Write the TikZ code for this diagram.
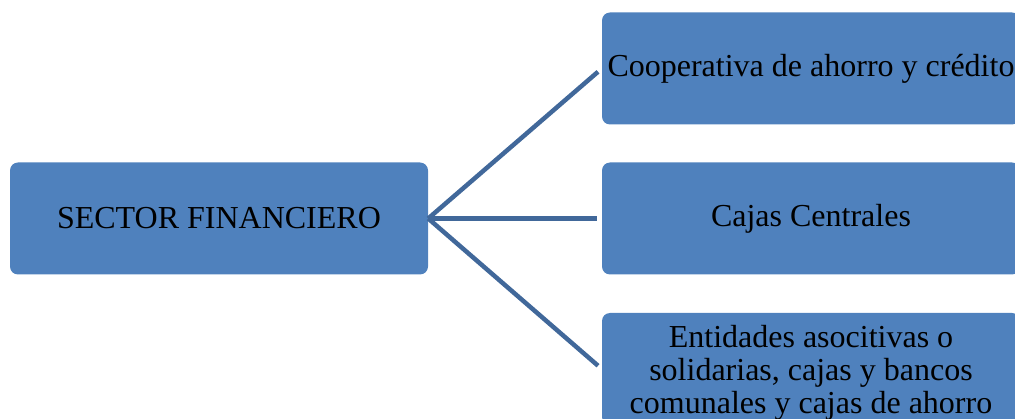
\documentclass[tikz,border=0pt]{standalone}
\usepackage{fontspec}
\setmainfont{Liberation Serif}
\usepackage{xcolor}
\usetikzlibrary{positioning}
\definecolor{boxblue}{HTML}{4F81BD}
\definecolor{lineblue}{HTML}{41689A}
\begin{document}
\begin{tikzpicture}[
  x=1pt, y=-1pt,
  box/.style={fill=boxblue, rounded corners=8pt, align=center, font=\fontsize{32}{33}\selectfont, minimum width=418pt, minimum height=112pt, inner sep=0pt},
  link/.style={draw=lineblue, line width=4.5pt, shorten >=5pt}
]
\useasboundingbox (0,0) rectangle (1015,419);
\node[box] (sector) at (219,218.5) {SECTOR FINANCIERO};
\node[box] (coop) at (811,68.5) {Cooperativa de ahorro y crédito};
\node[box] (cajas) at (811,218.5) {Cajas Centrales};
\node[box, text depth=0pt] (entid) at (811,369) {Entidades asocitivas o\\solidarias, cajas y bancos\\comunales y cajas de ahorro};
\draw[link] (sector.east) -- (coop.west);
\draw[link] (sector.east) -- (cajas.west);
\draw[link] (sector.east) -- (entid.west);
\end{tikzpicture}
\end{document}
